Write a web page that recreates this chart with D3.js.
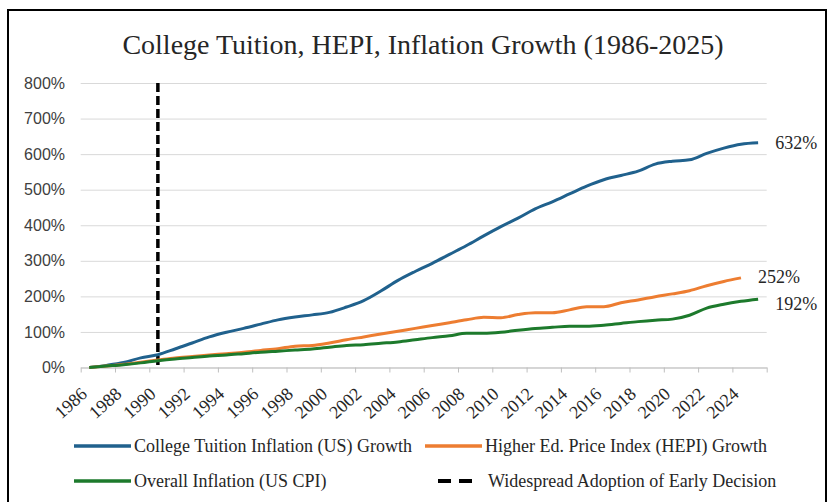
<!DOCTYPE html>
<html>
<head>
<meta charset="utf-8">
<script src="https://cdn.jsdelivr.net/npm/d3@7"></script>
<style>
    body { margin: 0; background: #fff; }
    .grid line { stroke: #d9d9d9; }
    .grid .domain { display: none; }
    .y-label { font-family: "Liberation Sans", Arial, sans-serif; font-size: 16px; fill: #404040; }
    .serif { font-family: "Liberation Serif", "Times New Roman", serif; fill: #262626; }
</style>
</head>
<body>
<div id="chart"></div>
<script>

// values (% growth since 1986)
var years = d3.range(1986, 2026);
var tuitionGrowth = [0, 6, 14, 27, 36, 52, 69, 86, 99, 110, 122, 134, 142, 148, 155, 170, 188, 215, 245, 270,
    293, 318, 343, 370, 396, 420, 446, 466, 488, 510, 528, 540, 552, 572, 580, 584, 602, 617, 628, 632];
var hepiGrowth = [0, 4, 9, 15, 21, 27, 31, 35, 39, 43, 48, 53, 60, 62, 69, 78, 86, 94, 102, 110,
    118, 126, 134, 141, 140, 149, 154, 154, 162, 171, 171, 182, 190, 199, 207, 216, 230, 242, 252];
var cpiGrowth = [0, 4, 8, 13, 19, 24, 28, 32, 35, 39, 43, 46, 49, 52, 57, 62, 64, 68, 72, 78,
    84, 89, 96, 96, 99, 105, 110, 113, 116, 116, 119, 124, 129, 133, 136, 147, 167, 178, 186, 192];
var yTicks = [0, 100, 200, 300, 400, 500, 600, 700, 800];
var xLabels = d3.range(1986, 2025, 2);
var earlyDecisionYear = 1990;

var seriesNames = ["College Tuition Inflation (US) Growth", "Higher Ed. Price Index (HEPI) Growth",
    "Overall Inflation (US CPI)", "Widespread Adoption of Early Decision"];
var endLabels = ["632%", "252%", "192%"];

var width = 828, height = 502;

var svg = d3.select("#chart").append("svg")
    .attr("width", width)
    .attr("height", height);

// frame
svg.append("rect")
    .attr("x", 8).attr("y", 10)
    .attr("width", 818).attr("height", 500)
    .attr("fill", "none")
    .attr("stroke", "#000")
    .attr("stroke-width", 2);

svg.append("text")
    .attr("class", "serif")
    .attr("x", 423).attr("y", 54)
    .attr("text-anchor", "middle")
    .attr("font-size", 28)
    .attr("fill", "#1a1a1a")
    .text("College Tuition, HEPI, Inflation Growth (1986-2025)");

// scales: category boundaries on a linear scale, points sit at centres
var x = d3.scaleLinear().domain([1986, 2026]).range([80.7, 766.7]);
var y = d3.scaleLinear().domain([0, 800]).range([367.5, 83]);
var cx = function(yr){ return x(yr + 0.5); };

svg.append("g")
    .attr("class", "grid")
    .attr("transform", "translate(" + x(1986) + ",0)")
    .call(d3.axisLeft(y).tickValues(yTicks).tickSize(-(x(2026) - x(1986))).tickFormat(""));

svg.selectAll(".y-label")
    .data(yTicks)
    .enter().append("text")
    .attr("class", "y-label")
    .attr("x", 65)
    .attr("y", function(d){ return y(d); })
    .attr("dy", "0.35em")
    .attr("text-anchor", "end")
    .text(function(d){ return d + "%"; });

var xAxis = svg.append("g")
    .attr("transform", "translate(0," + y(0) + ")")
    .call(d3.axisBottom(x).tickValues(d3.range(1986, 2027, 2)).tickSize(5).tickFormat("").tickSizeOuter(0));
xAxis.selectAll("line, path").attr("stroke", "#bfbfbf");

svg.selectAll(".x-label")
    .data(xLabels)
    .enter().append("text")
    .attr("class", "serif x-label")
    .attr("font-size", 18)
    .attr("text-anchor", "end")
    .attr("transform", function(d){
        return "translate(" + (cx(d) - 1) + "," + (y(0) + 28) + ") rotate(-42)";
    })
    .text(function(d){ return d; });

// lines
var line = d3.line()
    .x(function(d){ return cx(d.year); })
    .y(function(d){ return y(d.value); })
    .curve(d3.curveMonotoneX);

var toPoints = function(values){
    return values.map(function(v, i){ return {year: years[i], value: v}; });
};

var series = [
    {values: tuitionGrowth, color: "#20618d"},
    {values: hepiGrowth, color: "#ed7d31"},
    {values: cpiGrowth, color: "#1d7a2c"}
];

svg.append("line")
    .attr("x1", cx(earlyDecisionYear)).attr("x2", cx(earlyDecisionYear))
    .attr("y1", y(800)).attr("y2", y(0))
    .attr("stroke", "#000")
    .attr("stroke-width", 3.5)
    .attr("stroke-dasharray", "9,4");

svg.selectAll(".series")
    .data(series)
    .enter().append("path")
    .attr("class", "series")
    .attr("fill", "none")
    .attr("stroke", function(d){ return d.color; })
    .attr("stroke-width", 3)
    .attr("stroke-linejoin", "round")
    .attr("d", function(d){ return line(toPoints(d.values)); });

// end-of-line value labels
var endOffsets = [{dx: 17, dy: 0}, {dx: 17, dy: -1}, {dx: 17, dy: 4}];
svg.selectAll(".end-label")
    .data(series)
    .enter().append("text")
    .attr("class", "serif end-label")
    .attr("font-size", 18)
    .attr("x", function(d, i){ return cx(years[d.values.length - 1]) + endOffsets[i].dx; })
    .attr("y", function(d, i){ return y(d.values[d.values.length - 1]) + endOffsets[i].dy; })
    .attr("dy", "0.35em")
    .text(function(d, i){ return endLabels[i]; });

// legend
var legendPos = [[74, 446], [425, 446], [74, 481], [438, 481]];
var legend = svg.selectAll(".legend")
    .data(seriesNames)
    .enter().append("g")
    .attr("class", "legend")
    .attr("transform", function(d, i){ return "translate(" + legendPos[i][0] + "," + legendPos[i][1] + ")"; });

legend.append("line")
    .attr("x1", 0)
    .attr("x2", function(d, i){ return i == 3 ? 40 : 57; })
    .attr("stroke", function(d, i){ return i == 3 ? "#000" : series[i].color; })
    .attr("stroke-width", function(d, i){ return i == 3 ? 4 : 3.5; })
    .attr("stroke-dasharray", function(d, i){ return i == 3 ? "13,8" : null; });

legend.append("text")
    .attr("class", "serif")
    .attr("font-size", 18)
    .attr("x", function(d, i){ return i == 3 ? 50 : 60; })
    .attr("dy", "0.35em")
    .text(function(d){ return d; });

</script>
</body>
</html>
